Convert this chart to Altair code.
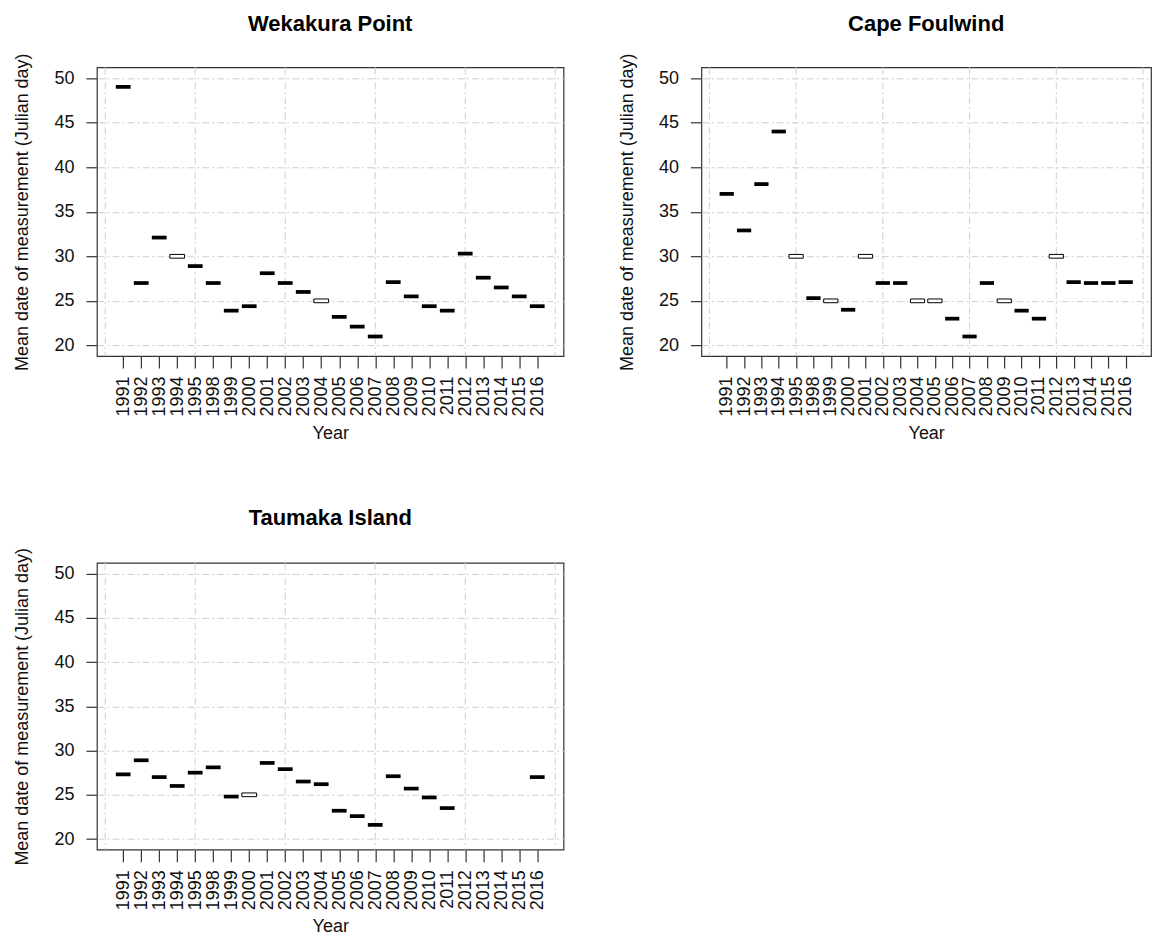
import altair as alt
import pandas as pd

years = ["1991", "1992", "1993", "1994", "1995", "1998", "1999", "2000", "2001",
         "2002", "2003", "2004", "2005", "2006", "2007", "2008", "2009", "2010",
         "2011", "2012", "2013", "2014", "2015", "2016"]

wekakura = [49.0, 27.0, 32.1, 30.0, 28.9, 27.0, 23.9, 24.4, 28.1, 27.0, 26.0, 25.0,
            23.2, 22.1, 21.0, 27.1, 25.5, 24.4, 23.9, 30.3, 27.6, 26.5, 25.5, 24.4]
wekakura_open = [0, 0, 0, 1, 0, 0, 0, 0, 0, 0, 0, 1,
                 0, 0, 0, 0, 0, 0, 0, 0, 0, 0, 0, 0]

cape = [37.0, 32.9, 38.1, 44.0, 30.0, 25.3, 25.0, 24.0, 30.0, 27.0, 27.0, 25.0,
        25.0, 23.0, 21.0, 27.0, 25.0, 23.9, 23.0, 30.0, 27.1, 27.0, 27.0, 27.1]
cape_open = [0, 0, 0, 0, 1, 0, 1, 0, 1, 0, 0, 1,
             1, 0, 0, 0, 1, 0, 0, 1, 0, 0, 0, 0]

taumaka = [27.3, 28.9, 27.0, 26.0, 27.5, 28.1, 24.8, 25.0, 28.6, 27.9, 26.5, 26.2,
           23.2, 22.6, 21.6, 27.1, 25.7, 24.7, 23.5, None, None, None, None, 27.0]
taumaka_open = [0, 0, 0, 0, 0, 0, 0, 1, 0, 0, 0, 0,
                0, 0, 0, 0, 0, 0, 0, 0, 0, 0, 0, 0]

y_ticks = [20, 25, 30, 35, 40, 45, 50]
grid_x = [0, 5, 10, 15, 20, 25]

FONT = "Liberation Sans"
GRID = "#cfcfcf"
DASH = [7, 3, 2, 3]
FS = 18

label_expr = "[" + ",".join("'%s'" % y for y in years) + "][datum.value - 1]"


def panel(title, values, open_flags, width, height):
    n = len(years)
    df = pd.DataFrame({"idx": list(range(1, n + 1)), "year": years,
                       "value": values, "open": open_flags}).dropna()
    df["xa"] = df["idx"] - 0.41
    df["xb"] = df["idx"] + 0.41
    df["ya"] = df["value"] - 0.21
    df["yb"] = df["value"] + 0.21

    xscale = alt.Scale(domain=[-0.46, n + 1.46], nice=False, zero=False)
    yscale = alt.Scale(domain=[18.8, 51.2], nice=False, zero=False)
    common = dict(labelFont=FONT, titleFont=FONT, labelFontSize=FS,
                  titleFontSize=FS, titleFontWeight="normal",
                  labelColor="#111111", titleColor="#111111",
                  tickColor="#333333", tickWidth=1.2, domain=False)
    xaxis = alt.Axis(values=list(range(1, n + 1)), labelExpr=label_expr,
                     title="Year", grid=False, labelAngle=-90,
                     labelAlign="right", labelBaseline="middle", tickSize=12,
                     labelPadding=8, titlePadding=8, labelOverlap=False, **common)
    yaxis = alt.Axis(values=y_ticks, title="Mean date of measurement (Julian day)",
                     grid=True, gridColor=GRID, gridDash=DASH, tickSize=11,
                     labelPadding=12, titlePadding=22, **common)

    gdf = pd.DataFrame({"xa": grid_x})
    vgrid = alt.Chart(gdf).mark_rule(color=GRID, strokeDash=DASH, strokeWidth=1).encode(
        x=alt.X("xa:Q", scale=xscale, axis=xaxis))

    solid = alt.Chart(df).transform_filter("datum.open == 0").mark_rect(
        color="black").encode(
        x=alt.X("xa:Q", scale=xscale, axis=xaxis), x2="xb:Q",
        y=alt.Y("ya:Q", scale=yscale, axis=yaxis), y2="yb:Q")
    hollow = alt.Chart(df).transform_filter("datum.open == 1").mark_rect(
        fill="white", stroke="black", strokeWidth=1).encode(
        x=alt.X("xa:Q", scale=xscale, axis=xaxis), x2="xb:Q",
        y=alt.Y("ya:Q", scale=yscale, axis=yaxis), y2="yb:Q")

    return alt.layer(vgrid, solid, hollow).properties(
        width=width, height=height,
        title=alt.TitleParams(title, fontSize=22, fontWeight="bold", font=FONT,
                              color="black", anchor="middle", offset=17))


p1 = panel("Wekakura Point", wekakura, wekakura_open, 467, 289)
p2 = panel("Cape Foulwind", cape, cape_open, 450, 289)
p3 = panel("Taumaka Island", taumaka, taumaka_open, 467, 287)

chart = alt.vconcat(alt.hconcat(p1, p2, spacing=53), p3, spacing=63).configure_view(
    stroke="#333333", strokeWidth=1.2
).properties(padding={"left": 5, "top": 3, "right": 5, "bottom": 5})

chart.save("out.html", embed_options={"renderer": "svg", "actions": False})
